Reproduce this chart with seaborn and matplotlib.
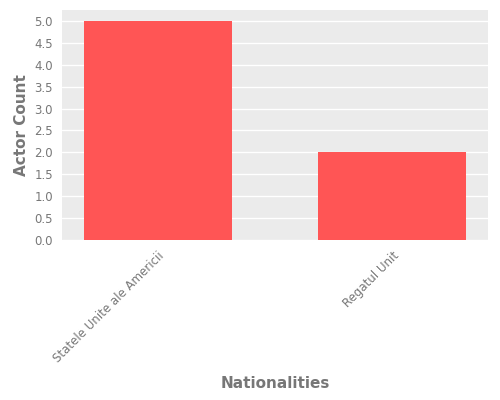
import matplotlib
matplotlib.use('Agg')
import matplotlib.pyplot as plt
import seaborn as sns
import pandas as pd

nationalities = ['Statele Unite ale Americii', 'Regatul Unit']
actor_counts = [5, 2]

df = pd.DataFrame({'Nationality': nationalities, 'Count': actor_counts})

sns.set_theme(style='darkgrid', rc={'axes.facecolor': '#EBEBEB', 'grid.color': 'white'})
plt.rcParams['font.family'] = ['DejaVu Sans']

fig, ax = plt.subplots(figsize=(5, 4), dpi=100)
sns.barplot(data=df, x='Nationality', y='Count', color='#FF5555', saturation=1,
            width=0.635, linewidth=0, ax=ax)
ax.set_xlim(-0.41, 1.41)
ax.set_ylim(0, 5.25)
ax.set_yticks([i * 0.5 for i in range(11)])
ax.xaxis.grid(False)
ax.set_xlabel('Nationalities', color='#777777', fontsize=11, fontweight='semibold', labelpad=8)
ax.set_ylabel('Actor Count', color='#777777', fontsize=11, fontweight='semibold')
ax.tick_params(colors='#777777', labelsize=8.5, length=3)
plt.setp(ax.get_xticklabels(), rotation=45, ha='right', rotation_mode='anchor')
for s in ax.spines.values():
    s.set_visible(False)
fig.subplots_adjust(left=0.124, right=0.976, top=0.975, bottom=0.4)
fig.savefig('out.png', dpi=100)
